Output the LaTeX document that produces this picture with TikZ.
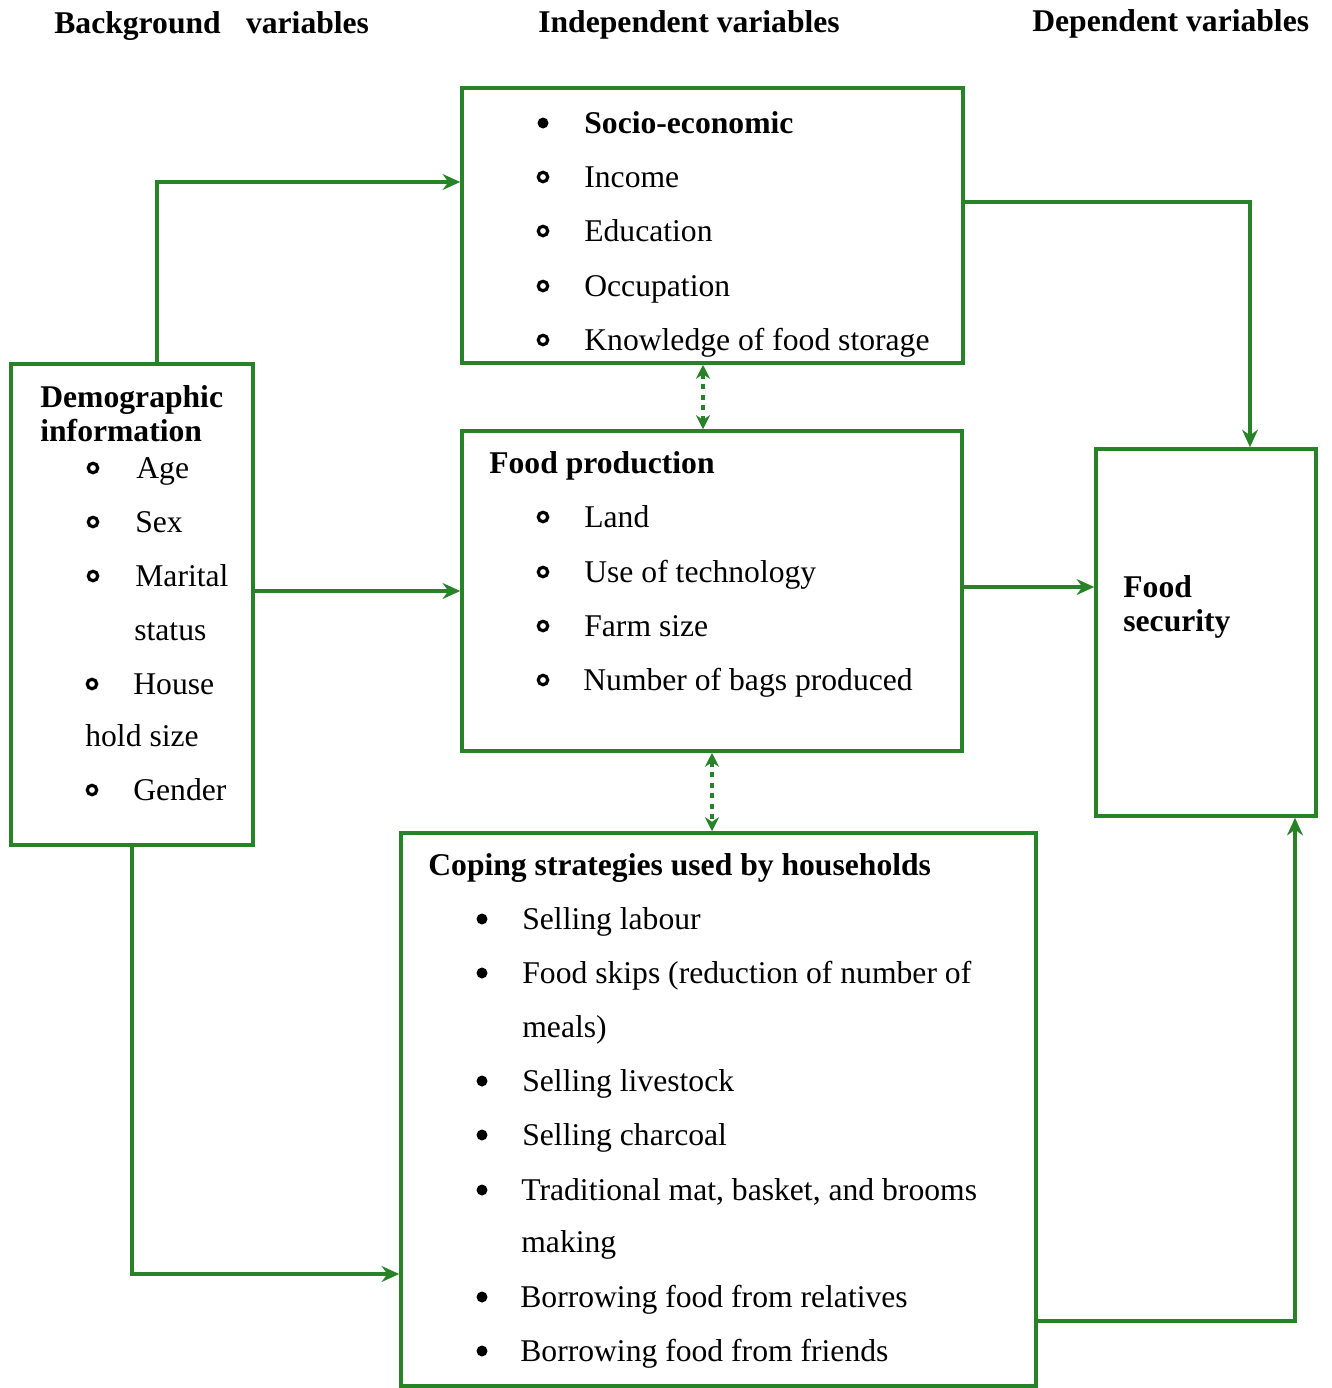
\documentclass[tikz,border=0pt]{standalone}
\usepackage{fontspec}
\setmainfont{Liberation Serif}
\usetikzlibrary{arrows.meta, positioning}

\definecolor{lineg}{RGB}{40,130,40}

\tikzset{
  box/.style={draw=lineg, line width=2pt, rectangle, inner sep=0pt},
  arr/.style={-{Stealth[length=10pt,width=9pt]}, draw=lineg, line width=2pt},
  darr/.style={{Stealth[length=8pt,width=8pt]}-{Stealth[length=8pt,width=8pt]}, draw=lineg, line width=2pt, dashed},
  txt/.style={anchor=base west, inner sep=0pt},
  hd/.style={anchor=base west, inner sep=0pt, font=\fontsize{18}{22}\selectfont\bfseries},
  ob/.style={circle, draw=black, line width=1.8pt, minimum size=0.19cm, inner sep=0pt},
  fb/.style={circle, fill=black, minimum size=0.22cm, inner sep=0pt}
}

\begin{document}
\begin{tikzpicture}[font=\fontsize{18}{22}\selectfont]
		\useasboundingbox (0,0) rectangle (26.64,-27.76);
		
		% --- column titles
		\node[hd] (tback) at (1.08,-0.66) {Background\hspace{0.55em} variables};
		\node[hd] (tind)  at (10.76,-0.64) {Independent variables};
		\node[hd] (tdep)  at (20.64,-0.62) {Dependent variables};
		
		% --- boxes
		\node[box, minimum width=10.02cm, minimum height=5.5cm]  (socio) at (14.25,-4.51) {};
		\node[box, minimum width=10.0cm, minimum height=6.4cm]   (prod)  at (14.24,-11.82) {};
		\node[box, minimum width=12.7cm, minimum height=11.06cm] (cope)  at (14.37,-22.19) {};
		\node[box, minimum width=4.84cm, minimum height=9.62cm]  (demo)  at (2.64,-12.09) {};
		\node[box, minimum width=4.4cm, minimum height=7.34cm]   (fs)    at (24.12,-12.65) {};
		
		% --- socio-economic
		\node[fb] (b1) at (10.86,-2.46) {};
		\node[hd] (s1) at (11.68,-2.66) {Socio-economic};
		\node[ob] (b2) at (10.86,-3.54) {};
		\node[txt] (s2) at (11.68,-3.74) {Income};
		\node[ob] (b3) at (10.86,-4.62) {};
		\node[txt] (s3) at (11.68,-4.82) {Education};
		\node[ob] (b4) at (10.86,-5.72) {};
		\node[txt] (s4) at (11.68,-5.92) {Occupation};
		\node[ob] (b5) at (10.86,-6.80) {};
		\node[txt] (s5) at (11.68,-7.00) {Knowledge of food storage};
		
		% --- food production
		\node[hd] (p0) at (9.78,-9.46) {Food production};
		\node[ob] (pb1) at (10.86,-10.34) {};
		\node[txt] (p1) at (11.68,-10.54) {Land};
		\node[ob] (pb2) at (10.86,-11.44) {};
		\node[txt] (p2) at (11.68,-11.64) {Use of technology};
		\node[ob] (pb3) at (10.86,-12.52) {};
		\node[txt] (p3) at (11.68,-12.72) {Farm size};
		\node[ob] (pb4) at (10.86,-13.60) {};
		\node[txt] (p4) at (11.66,-13.80) {Number of bags produced};
		
		% --- demographic information
		\node[hd] (d0) at (0.80,-8.14) {Demographic};
		\node[hd] (d00) at (0.80,-8.82) {information};
		\node[ob] (db1) at (1.86,-9.36) {};
		\node[txt] (d1) at (2.72,-9.56) {Age};
		\node[ob] (db2) at (1.86,-10.44) {};
		\node[txt] (d2) at (2.70,-10.64) {Sex};
		\node[ob] (db3) at (1.86,-11.52) {};
		\node[txt] (d3) at (2.70,-11.72) {Marital};
		\node[txt] (d3b) at (2.68,-12.80) {status};
		\node[ob] (db4) at (1.84,-13.68) {};
		\node[txt] (d4) at (2.66,-13.88) {House};
		\node[txt] (d4b) at (1.70,-14.92) {hold size};
		\node[ob] (db5) at (1.84,-15.80) {};
		\node[txt] (d5) at (2.66,-16.00) {Gender};
		
		% --- food security
		\node[hd] (f1) at (22.46,-11.94) {Food};
		\node[hd] (f2) at (22.46,-12.62) {security};
		
		% --- coping strategies
		\node[hd] (c0) at (8.56,-17.50) {Coping strategies used by households};
		\node[fb] (cb1) at (9.64,-18.38) {};
		\node[txt] (c1) at (10.44,-18.58) {Selling labour};
		\node[fb] (cb2) at (9.64,-19.46) {};
		\node[txt] (c2) at (10.44,-19.66) {Food skips (reduction of number of};
		\node[txt] (c2b) at (10.44,-20.74) {meals)};
		\node[fb] (cb3) at (9.64,-21.62) {};
		\node[txt] (c3) at (10.44,-21.82) {Selling livestock};
		\node[fb] (cb4) at (9.64,-22.70) {};
		\node[txt] (c4) at (10.44,-22.90) {Selling charcoal};
		\node[fb] (cb5) at (9.64,-23.80) {};
		\node[txt] (c5) at (10.42,-24.00) {Traditional mat, basket, and brooms};
		\node[txt] (c5b) at (10.42,-25.04) {making};
		\node[fb] (cb6) at (9.64,-25.94) {};
		\node[txt] (c6) at (10.40,-26.14) {Borrowing food from relatives};
		\node[fb] (cb7) at (9.64,-27.02) {};
		\node[txt] (c7) at (10.40,-27.22) {Borrowing food from friends};
		
		% --- connectors
		\draw[arr] ([xshift=0.5cm]demo.north) |- ([yshift=0.87cm]socio.west);
		\draw[arr] (prod.west -| demo.east) -- (prod.west);
		\draw[arr] (demo.south) |- ([yshift=-3.29cm]cope.west);
		\draw[arr] ([yshift=0.47cm]socio.east) -| ([xshift=0.88cm]fs.north);
		\draw[arr] ([yshift=0.08cm]prod.east) -- ([yshift=0.08cm]prod.east -| fs.west);
		\draw[arr] ([yshift=-4.23cm]cope.east) -| ([xshift=1.78cm]fs.south);
		\draw[darr] ([xshift=-0.19cm]socio.south) -- ([xshift=-0.19cm]socio.south |- prod.north);
		\draw[darr] (prod.south) -- (prod.south |- cope.north);
		
	\end{tikzpicture}
\end{document}
